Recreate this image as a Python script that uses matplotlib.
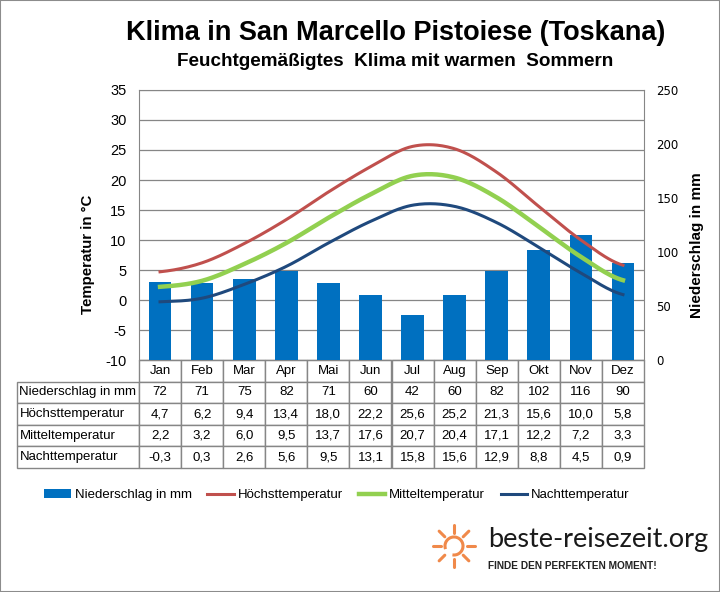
import numpy as np
import matplotlib.pyplot as plt
from matplotlib.table import Table
from matplotlib.patches import Rectangle, Arc

plt.rcParams['font.family'] = ['Liberation Sans', 'DejaVu Sans']
plt.rcParams['axes.unicode_minus'] = False

months = ['Jan', 'Feb', 'Mar', 'Apr', 'Mai', 'Jun', 'Jul', 'Aug', 'Sep', 'Okt', 'Nov', 'Dez']
niederschlag = [72, 71, 75, 82, 71, 60, 42, 60, 82, 102, 116, 90]
hoechst = [4.7, 6.2, 9.4, 13.4, 18.0, 22.2, 25.6, 25.2, 21.3, 15.6, 10.0, 5.8]
mittel = [2.2, 3.2, 6.0, 9.5, 13.7, 17.6, 20.7, 20.4, 17.1, 12.2, 7.2, 3.3]
nacht = [-0.3, 0.3, 2.6, 5.6, 9.5, 13.1, 15.8, 15.6, 12.9, 8.8, 4.5, 0.9]
row_names = ['Niederschlag in mm', 'Höchsttemperatur', 'Mitteltemperatur', 'Nachttemperatur']

c_bar = '#0070C0'
c_red = '#C0504D'
c_green = '#92D050'
c_navy = '#1F497D'
c_grid = '#868686'


def smooth(y, n=24):
    # catmull-rom through the monthly points (like excel smoothed lines)
    y = np.asarray(y, float)
    p = np.concatenate([[y[0]], y, [y[-1]]])
    xs, ys = [], []
    for i in range(len(y) - 1):
        t = np.linspace(0, 1, n, endpoint=(i == len(y) - 2))
        p0, p1, p2, p3 = p[i], p[i + 1], p[i + 2], p[i + 3]
        seg = 0.5 * (2 * p1 + (-p0 + p2) * t + (2 * p0 - 5 * p1 + 4 * p2 - p3) * t ** 2
                     + (-p0 + 3 * p1 - 3 * p2 + p3) * t ** 3)
        xs.append(i + t)
        ys.append(seg)
    return np.concatenate(xs), np.concatenate(ys)


fig = plt.figure(figsize=(7.2, 5.92), dpi=100)
fig.patches.append(Rectangle((0, 0), 1, 1, transform=fig.transFigure, fill=False,
                             edgecolor='#8c8c8c', lw=1.5))

# plot area: x 139..644, y 90..360 px
ax = fig.add_axes([139 / 720, 1 - 360 / 592, 505 / 720, 270 / 592])
x = np.arange(len(months))

ax.set_xlim(-0.5, 11.5)
ax.set_ylim(-10, 35)
ax.set_yticks(range(-10, 36, 5))
ax.set_xticks([])
ax.yaxis.grid(True, color=c_grid, lw=0.9)
ax.set_axisbelow(True)
ax.tick_params(axis='y', length=0, pad=9, labelsize=10.5)
for s in ax.spines.values():
    s.set_color(c_grid)
ax.set_ylabel('Temperatur in °C', fontweight='bold', fontsize=10.8)
ax.yaxis.set_label_coords(-0.087, 0.39)

ax2 = ax.twinx()
ax2.set_ylim(0, 250)
ax2.set_yticks(range(0, 251, 50))
ax2.tick_params(axis='y', length=0, pad=9)
for lab in ax2.get_yticklabels():
    lab.set_fontfamily('DejaVu Sans')
    lab.set_fontsize(8.5)
for s in ax2.spines.values():
    s.set_visible(False)
ax2.set_ylabel('Niederschlag in mm', fontweight='bold', fontsize=11)
ax2.yaxis.set_label_coords(1.091, 0.426)
bars = ax2.bar(x, niederschlag, width=0.54, color=c_bar, label='Niederschlag in mm')

ax3 = ax.twinx()
ax3.set_ylim(-10, 35)
ax3.set_yticks([])
for s in ax3.spines.values():
    s.set_visible(False)
l1, = ax3.plot(*smooth(hoechst), color=c_red, lw=2.2, label='Höchsttemperatur')
l2, = ax3.plot(*smooth(mittel), color=c_green, lw=3.2, label='Mitteltemperatur')
l3, = ax3.plot(*smooth(nacht), color=c_navy, lw=2.2, label='Nachttemperatur')

# table below the chart
lab_w = 122 / 505
col_w = 1 / 12
row_h = 0.4 / 5
tbl = Table(ax, bbox=[-lab_w, -0.4, 1 + lab_w, 0.4])
tbl.auto_set_font_size(False)
rows = [[str(v) for v in niederschlag],
        [f'{v:.1f}'.replace('.', ',') for v in hoechst],
        [f'{v:.1f}'.replace('.', ',') for v in mittel],
        [f'{v:.1f}'.replace('.', ',') for v in nacht]]
hc = tbl.add_cell(0, 0, lab_w, row_h, text='')
hc.visible_edges = ''
for j, m in enumerate(months):
    tbl.add_cell(0, j + 1, col_w, row_h, text=m, loc='center')
for i, name in enumerate(row_names):
    tbl.add_cell(i + 1, 0, lab_w, row_h, text=name, loc='left')
    for j, v in enumerate(rows[i]):
        tbl.add_cell(i + 1, j + 1, col_w, row_h, text=v, loc='center')
for (r, c), cell in tbl.get_celld().items():
    cell.set_edgecolor(c_grid)
    cell.set_linewidth(1.0)
    cell.set_fontsize(9.5)
    cell.PAD = 0.02
ax.add_table(tbl)

fig.legend(handles=[bars, l1, l2, l3], loc='center', bbox_to_anchor=(0.468, 1 - 495 / 592),
           ncol=4, frameon=False, fontsize=9.5, handlelength=2.0, handletextpad=0.3,
           columnspacing=1.2)

fig.text(0.55, 1 - 33 / 592, 'Klima in San Marcello Pistoiese (Toskana)',
         ha='center', va='center', fontsize=19.5, fontweight='bold')
fig.text(0.549, 1 - 62 / 592, 'Feuchtgemäßigtes  Klima mit warmen  Sommern',
         ha='center', va='center', fontsize=13.6, fontweight='bold')

# logo
lx, ly = 452, 546
sun = fig.add_axes([(lx - 25) / 720, 1 - (ly + 25) / 592, 50 / 720, 50 / 592])
sun.set_xlim(-25, 25)
sun.set_ylim(-25, 25)
sun.set_aspect('equal')
sun.axis('off')
orange = '#F0894A'
sun.add_patch(Arc((2, 0), 18, 18, theta1=-100, theta2=200, color=orange, lw=2.2))
for ang in [0, 45, 90, 135, 180, 225, 270, 315]:
    a = np.deg2rad(ang)
    sun.plot([2 + 13 * np.cos(a), 2 + 21 * np.cos(a)], [13 * np.sin(a), 21 * np.sin(a)],
             color=orange, lw=2.2, solid_capstyle='round')
fig.text(488 / 720, 1 - 540 / 592, 'beste-reisezeit.org', ha='left', va='center',
         fontsize=19.5, fontfamily='Lato', fontweight='normal', color='#1a1a1a')
fig.text(488 / 720, 1 - 566 / 592, 'FINDE DEN PERFEKTEN MOMENT!', ha='left', va='center',
         fontsize=7.3, fontweight='bold', color='#222222')

fig.savefig('out.png', dpi=100)
